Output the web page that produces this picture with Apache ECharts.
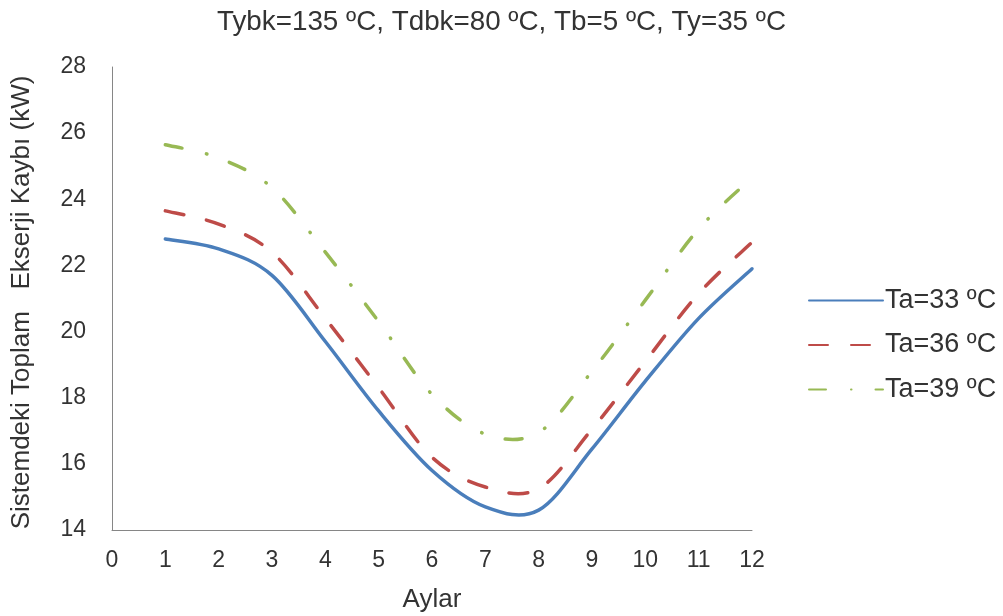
<!DOCTYPE html>
<html>
<head>
<meta charset="utf-8">
<script src="https://cdn.jsdelivr.net/npm/echarts@6/dist/echarts.min.js"></script>
<style>html,body{margin:0;padding:0;background:#fff;}#c{width:1003px;height:616px;}</style>
</head>
<body>
<div id="c"></div>
<script>
var months = [1, 2, 3, 4, 5, 6, 7, 8, 9, 10, 11, 12];
var ta33 = [22.8, 22.5, 21.7, 19.7, 17.6, 15.8, 14.7, 14.6, 16.45, 18.5, 20.4, 21.9];
var ta36 = [23.65, 23.25, 22.4, 20.4, 18.3, 16.2, 15.3, 15.25, 17.05, 19.1, 21.15, 22.7];
var ta39 = [25.65, 25.25, 24.35, 22.4, 20.3, 18.1, 16.9, 16.95, 18.8, 20.95, 23.1, 24.65];
var seriesNames = ['Ta=33 ºC', 'Ta=36 ºC', 'Ta=39 ºC'];
var xTicks = [0, 12, 1];
var yTicks = [14, 28, 2];

var colors = ['#4A7EBB', '#BE4B48', '#98B954'];
var dashes = [null, [19, 23], [17, 25, 0.5, 24]];
var LW = 3.5;

function pairs(v) { return months.map(function (m, i) { return [m, v[i]]; }); }

// Excel-like smoothed line: cubic Bezier through the data points (Catmull-Rom tangents),
// positions obtained from the library's coordinate system.
function makeRender(k) {
  return function (params, api) {
    if (params.dataIndexInside !== 0) return null;
    var n = params.dataInsideLength;
    var p = [];
    for (var i = 0; i < n; i++) p.push(api.coord([api.value(0, i), api.value(1, i)]));
    var d = 'M' + p[0][0] + ' ' + p[0][1];
    for (var j = 0; j < n - 1; j++) {
      var a = p[j - 1] || p[j], b = p[j], c = p[j + 1], e = p[j + 2] || p[j + 1];
      var c1x = b[0] + (c[0] - a[0]) / 6, c1y = b[1] + (c[1] - a[1]) / 6;
      var c2x = c[0] - (e[0] - b[0]) / 6, c2y = c[1] - (e[1] - b[1]) / 6;
      d += ' C' + c1x + ' ' + c1y + ' ' + c2x + ' ' + c2y + ' ' + c[0] + ' ' + c[1];
    }
    return {
      type: 'path',
      shape: { pathData: d },
      style: { fill: 'none', stroke: colors[k], lineWidth: LW, lineDash: dashes[k], lineCap: 'round', lineJoin: 'round' }
    };
  };
}

var font = 'Liberation Sans, Arial, sans-serif';
var series = [];
[ta33, ta36, ta39].forEach(function (vals, k) {
  // legend carrier (no data)
  series.push({
    name: seriesNames[k], type: 'line', data: [], symbol: 'circle',
    itemStyle: { color: colors[k], opacity: 0 },
    lineStyle: { color: colors[k], width: LW, type: dashes[k] || 'solid', cap: 'round' }
  });
});
[ta33, ta36, ta39].forEach(function (vals, k) {
  series.push({
    name: seriesNames[k], type: 'custom', renderItem: makeRender(k),
    data: pairs(vals), encode: { x: 0, y: 1 }, silent: true
  });
});

var chart = echarts.init(document.getElementById('c'));
chart.setOption({
  backgroundColor: '#fff',
  animation: false,
  title: {
    text: 'Tybk=135 ºC, Tdbk=80 ºC, Tb=5 ºC, Ty=35 ºC',
    left: 'center', top: 3,
    textStyle: { fontFamily: font, fontSize: 27.8, fontWeight: 'normal', color: '#333' }
  },
  legend: {
    orient: 'vertical', left: 803, top: 282,
    itemWidth: 74, itemHeight: 14, itemGap: 17.5,
    textStyle: { fontFamily: font, fontSize: 27, color: '#333', padding: [0, 0, 0, -3] },
    data: seriesNames
  },
  grid: { left: 112, right: 251, top: 67, bottom: 86, containLabel: false, outerBoundsMode: 'none' },
  xAxis: {
    type: 'value', min: xTicks[0], max: xTicks[1], interval: xTicks[2],
    name: 'Aylar', nameLocation: 'middle', nameGap: 57,
    nameTextStyle: { fontFamily: font, fontSize: 26, color: '#333' },
    axisLine: { lineStyle: { color: '#868686', width: 1 } },
    axisTick: { show: false }, splitLine: { show: false },
    axisLabel: { fontFamily: font, fontSize: 23, color: '#333', margin: 19 }
  },
  yAxis: {
    type: 'value', min: yTicks[0], max: yTicks[1], interval: yTicks[2],
    name: 'Sistemdeki Toplam   Ekserji Kaybı (kW)', nameLocation: 'middle', nameGap: 77,
    nameTextStyle: { fontFamily: font, fontSize: 26, color: '#333', padding: [0, 0, 0, -8] },
    axisLine: { show: true, lineStyle: { color: '#868686', width: 1 } },
    axisTick: { show: false }, splitLine: { show: false },
    axisLabel: { fontFamily: font, fontSize: 23, color: '#333', margin: 26 }
  },
  series: series
});
</script>
</body>
</html>
